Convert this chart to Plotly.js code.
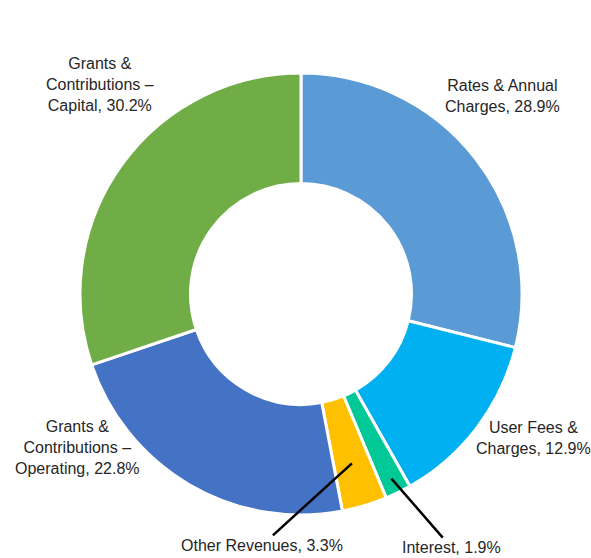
<!DOCTYPE html>
<html>
<head>
<meta charset="utf-8">
<script src="https://cdn.plot.ly/plotly-3.0.1.min.js"></script>
<style>
  body { margin: 0; background: #fff; }
  #chart { width: 591px; height: 558px; }
</style>
</head>
<body>
<div id="chart"></div>
<script>
// revenue sources, clockwise from 12 o'clock
var labels = [
    "Rates & Annual<br>Charges",
    "User Fees &<br>Charges",
    "Interest",
    "Other Revenues",
    "Grants &<br>Contributions –<br>Operating",
    "Grants &<br>Contributions –<br>Capital"
]
var shares = [28.9, 12.9, 1.9, 3.3, 22.8, 30.2]
var colors = ["#5B9BD5", "#00B0F0", "#00C896", "#FFC000", "#4472C4", "#70AD47"]

// where each label sits (paper coords), or arrow offsets for the small slices
var labelPos = [
    {x: 0.955, y: 0.948},
    {x: 1.025, y: 0.174},
    {arrow: true, r: 0.93, ax: 60, ay: 69},
    {arrow: true, r: 0.80, ax: -90, ay: 82},
    {x: -0.005, y: 0.152},
    {x: 0.045, y: 0.973}
]

var total = shares.reduce((a, b) => a + b, 0)
var annotations = []
var cum = 0
for (let i = 0; i < shares.length; i++) {
    let mid = (cum + shares[i] / 2) / total * 2 * Math.PI
    cum += shares[i]
    let text = labels[i] + ", " + shares[i].toFixed(1) + "%"
    let p = labelPos[i]
    let a = {
        text: text,
        xref: "paper", yref: "paper",
        font: {family: "Liberation Sans, Arial, sans-serif", size: 16, color: "#262626"},
        align: "center"
    }
    if (p.arrow) {
        a.x = 0.5 + p.r * 0.5 * Math.sin(mid)
        a.y = 0.5 + p.r * 0.5 * Math.cos(mid)
        a.showarrow = true
        a.arrowhead = 0
        a.arrowwidth = 2.5
        a.arrowcolor = "#000"
        a.ax = p.ax
        a.ay = p.ay
    } else {
        a.x = p.x
        a.y = p.y
        a.showarrow = false
        a.xanchor = "center"
        a.yanchor = "middle"
    }
    annotations.push(a)
}

Plotly.newPlot("chart", [{
    type: "pie",
    values: shares,
    labels: labels,
    marker: {colors: colors, line: {color: "#fff", width: 3}},
    hole: 0.5,
    sort: false,
    direction: "clockwise",
    textinfo: "none",
    hoverinfo: "label+percent"
}], {
    width: 591,
    height: 558,
    margin: {l: 80, r: 69, t: 73, b: 43},
    showlegend: false,
    paper_bgcolor: "#fff",
    annotations: annotations
}, {displayModeBar: false})
</script>
</body>
</html>
